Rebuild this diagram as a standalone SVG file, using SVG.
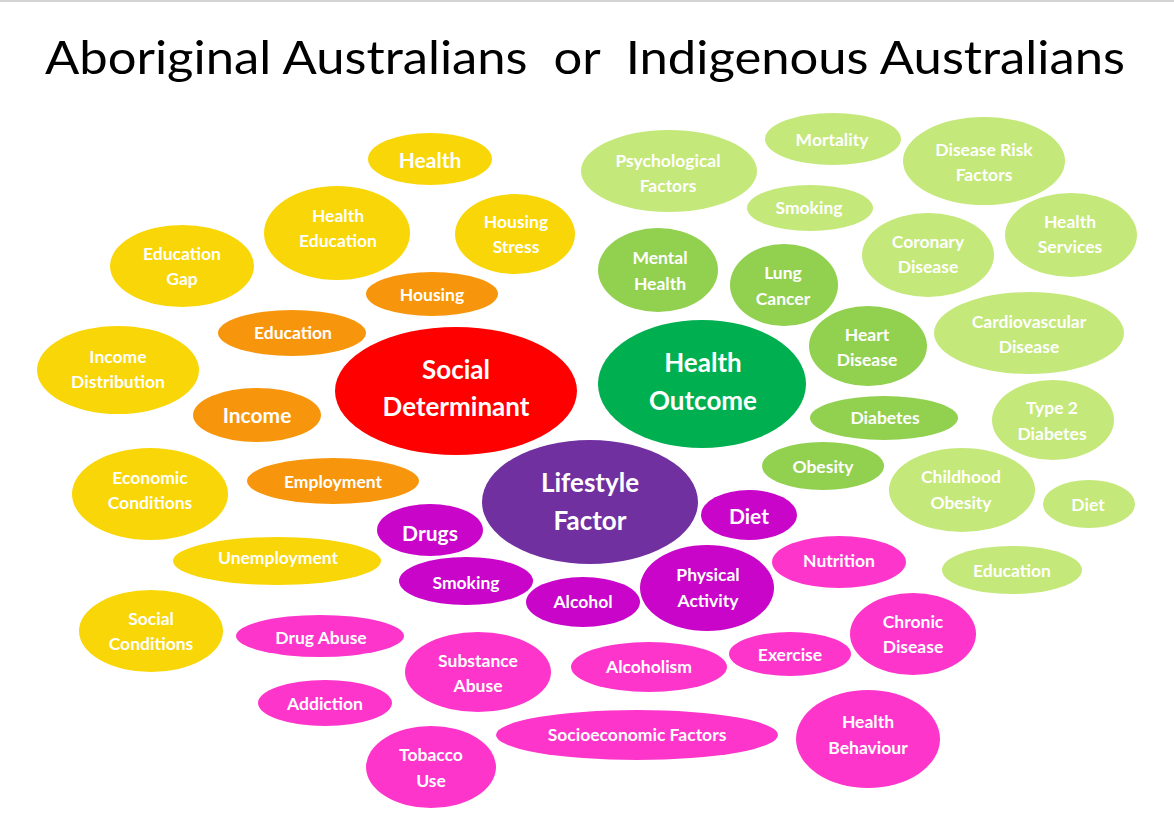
<svg xmlns="http://www.w3.org/2000/svg" width="1174" height="829" viewBox="0 0 1174 829">
<style>
.t{font-family:Lato,"Open Sans","Liberation Sans",sans-serif;font-weight:700;fill:#fff;text-anchor:middle;dominant-baseline:central;font-size:17.5px}
.b{font-size:21px}
.c{font-size:26px}
.ttl{font-family:Lato,"Open Sans","Liberation Sans",sans-serif;font-size:46px;fill:#000}
.y{fill:#f9d608}.o{fill:#f7960c}.r{fill:#fe0000}.dg{fill:#00b050}.mg{fill:#92d050}.lg{fill:#c4e87a}.p{fill:#7030a0}.m{fill:#c805c8}.k{fill:#fe35cb}
</style>
<rect x="0" y="0" width="1174" height="829" fill="#fff"/>
<rect x="0" y="0" width="1174" height="2" fill="#d4d4d4"/>
<text class="ttl" x="45" y="74" textLength="1080" lengthAdjust="spacingAndGlyphs" xml:space="preserve">Aboriginal Australians  or  Indigenous Australians</text>

<g id="n-health"><ellipse class="y" cx="430" cy="159" rx="62" ry="26"/><text class="t b" x="430" y="159">Health</text></g>
<g id="n-health-education"><ellipse class="y" cx="337" cy="233" rx="73" ry="47"/><text class="t" x="337"><tspan x="338" y="215">Health</tspan><tspan x="338" y="240">Education</tspan></text></g>
<g id="n-housing-stress"><ellipse class="y" cx="515" cy="234" rx="60" ry="40"/><text class="t"><tspan x="516" y="221">Housing</tspan><tspan x="516" y="246">Stress</tspan></text></g>
<g id="n-education-gap"><ellipse class="y" cx="182" cy="266" rx="72" ry="41"/><text class="t"><tspan x="182" y="253">Education</tspan><tspan x="182" y="278">Gap</tspan></text></g>
<g id="n-income-distribution"><ellipse class="y" cx="118" cy="370" rx="81" ry="44"/><text class="t"><tspan x="118" y="356">Income</tspan><tspan x="118" y="381">Distribution</tspan></text></g>
<g id="n-economic-conditions"><ellipse class="y" cx="150" cy="494" rx="78" ry="46"/><text class="t"><tspan x="150" y="477">Economic</tspan><tspan x="150" y="502">Conditions</tspan></text></g>
<g id="n-unemployment"><ellipse class="y" cx="277" cy="561" rx="104" ry="24"/><text class="t" x="278" y="557">Unemployment</text></g>
<g id="n-social-conditions"><ellipse class="y" cx="151" cy="631" rx="72" ry="41"/><text class="t"><tspan x="151" y="618">Social</tspan><tspan x="151" y="643">Conditions</tspan></text></g>

<g id="n-housing"><ellipse class="o" cx="432" cy="294" rx="66" ry="22"/><text class="t" x="432" y="294">Housing</text></g>
<g id="n-education"><ellipse class="o" cx="292" cy="333" rx="74" ry="23"/><text class="t" x="293" y="332">Education</text></g>
<g id="n-income"><ellipse class="o" cx="257" cy="415" rx="64" ry="27"/><text class="t b" x="257" y="414">Income</text></g>
<g id="n-employment"><ellipse class="o" cx="333" cy="481" rx="86" ry="23"/><text class="t" x="333" y="481">Employment</text></g>

<g id="n-social-determinant"><ellipse class="r" cx="456" cy="391" rx="121" ry="64"/><text class="t c"><tspan x="456" y="369">Social</tspan><tspan x="456" y="406">Determinant</tspan></text></g>
<g id="n-health-outcome"><ellipse class="dg" cx="702" cy="384" rx="104" ry="64"/><text class="t c"><tspan x="703" y="362">Health</tspan><tspan x="703" y="400">Outcome</tspan></text></g>
<g id="n-lifestyle-factor"><ellipse class="p" cx="590" cy="502" rx="108" ry="62"/><text class="t c"><tspan x="590" y="482">Lifestyle</tspan><tspan x="590" y="520">Factor</tspan></text></g>

<g id="n-psychological-factors"><ellipse class="lg" cx="669" cy="171" rx="88" ry="41"/><text class="t"><tspan x="668" y="160">Psychological</tspan><tspan x="668" y="185">Factors</tspan></text></g>
<g id="n-mortality"><ellipse class="lg" cx="833" cy="139" rx="68" ry="26"/><text class="t" x="832" y="139">Mortality</text></g>
<g id="n-disease-risk-factors"><ellipse class="lg" cx="984" cy="161" rx="81" ry="44"/><text class="t"><tspan x="984" y="149">Disease Risk</tspan><tspan x="984" y="174">Factors</tspan></text></g>
<g id="n-smoking-outcome"><ellipse class="lg" cx="810" cy="208" rx="63" ry="23"/><text class="t" x="809" y="207">Smoking</text></g>
<g id="n-coronary-disease"><ellipse class="lg" cx="928" cy="255" rx="66" ry="42"/><text class="t"><tspan x="928" y="241">Coronary</tspan><tspan x="928" y="266">Disease</tspan></text></g>
<g id="n-health-services"><ellipse class="lg" cx="1071" cy="235" rx="66" ry="42"/><text class="t"><tspan x="1070" y="221">Health</tspan><tspan x="1070" y="246">Services</tspan></text></g>
<g id="n-cardiovascular-disease"><ellipse class="lg" cx="1029" cy="333" rx="95" ry="41"/><text class="t"><tspan x="1029" y="321">Cardiovascular</tspan><tspan x="1029" y="346">Disease</tspan></text></g>
<g id="n-type2-diabetes"><ellipse class="lg" cx="1053" cy="420" rx="61" ry="40"/><text class="t"><tspan x="1052" y="407">Type 2</tspan><tspan x="1052" y="433">Diabetes</tspan></text></g>
<g id="n-childhood-obesity"><ellipse class="lg" cx="962" cy="490" rx="73" ry="42"/><text class="t"><tspan x="961" y="476">Childhood</tspan><tspan x="961" y="502">Obesity</tspan></text></g>
<g id="n-diet-outcome"><ellipse class="lg" cx="1089" cy="504" rx="46" ry="24"/><text class="t" x="1088" y="504">Diet</text></g>
<g id="n-education-outcome"><ellipse class="lg" cx="1012" cy="570" rx="70" ry="24"/><text class="t" x="1012" y="570">Education</text></g>

<g id="n-mental-health"><ellipse class="mg" cx="658" cy="270" rx="60" ry="42"/><text class="t"><tspan x="660" y="257">Mental</tspan><tspan x="660" y="283">Health</tspan></text></g>
<g id="n-lung-cancer"><ellipse class="mg" cx="784" cy="285" rx="54" ry="41"/><text class="t"><tspan x="783" y="272">Lung</tspan><tspan x="783" y="298">Cancer</tspan></text></g>
<g id="n-heart-disease"><ellipse class="mg" cx="868" cy="346" rx="59" ry="40"/><text class="t"><tspan x="867" y="334">Heart</tspan><tspan x="867" y="359">Disease</tspan></text></g>
<g id="n-diabetes"><ellipse class="mg" cx="884" cy="418" rx="74" ry="22"/><text class="t" x="885" y="417">Diabetes</text></g>
<g id="n-obesity"><ellipse class="mg" cx="823" cy="466" rx="61" ry="24"/><text class="t" x="823" y="466">Obesity</text></g>

<g id="n-drugs"><ellipse class="m" cx="430" cy="530" rx="53" ry="26"/><text class="t b" x="430" y="532">Drugs</text></g>
<g id="n-diet-lifestyle"><ellipse class="m" cx="749" cy="515" rx="48" ry="25"/><text class="t b" x="749" y="515">Diet</text></g>
<g id="n-smoking-lifestyle"><ellipse class="m" cx="466" cy="581" rx="67" ry="24"/><text class="t" x="466" y="582">Smoking</text></g>
<g id="n-alcohol"><ellipse class="m" cx="583" cy="602" rx="57" ry="25"/><text class="t" x="583" y="601">Alcohol</text></g>
<g id="n-physical-activity"><ellipse class="m" cx="707" cy="588" rx="67" ry="43"/><text class="t"><tspan x="708" y="574">Physical</tspan><tspan x="708" y="600">Activity</tspan></text></g>

<g id="n-nutrition"><ellipse class="k" cx="839" cy="562" rx="67" ry="26"/><text class="t" x="839" y="560">Nutrition</text></g>
<g id="n-drug-abuse"><ellipse class="k" cx="320" cy="636" rx="84" ry="21"/><text class="t" x="321" y="637">Drug Abuse</text></g>
<g id="n-substance-abuse"><ellipse class="k" cx="478" cy="672" rx="73" ry="40"/><text class="t"><tspan x="478" y="660">Substance</tspan><tspan x="478" y="685">Abuse</tspan></text></g>
<g id="n-alcoholism"><ellipse class="k" cx="649" cy="667" rx="78" ry="25"/><text class="t" x="649" y="666">Alcoholism</text></g>
<g id="n-exercise"><ellipse class="k" cx="790" cy="654" rx="61" ry="22"/><text class="t" x="790" y="654">Exercise</text></g>
<g id="n-chronic-disease"><ellipse class="k" cx="913" cy="634" rx="63" ry="41"/><text class="t"><tspan x="913" y="621">Chronic</tspan><tspan x="913" y="646">Disease</tspan></text></g>
<g id="n-addiction"><ellipse class="k" cx="325" cy="703" rx="67" ry="23"/><text class="t" x="325" y="703">Addiction</text></g>
<g id="n-socioeconomic-factors"><ellipse class="k" cx="637" cy="735" rx="141" ry="25"/><text class="t" x="637" y="734">Socioeconomic Factors</text></g>
<g id="n-tobacco-use"><ellipse class="k" cx="431" cy="767" rx="65" ry="41"/><text class="t"><tspan x="431" y="754">Tobacco</tspan><tspan x="431" y="780">Use</tspan></text></g>
<g id="n-health-behaviour"><ellipse class="k" cx="868" cy="739" rx="72" ry="49"/><text class="t"><tspan x="868" y="721">Health</tspan><tspan x="868" y="747">Behaviour</tspan></text></g>
</svg>
